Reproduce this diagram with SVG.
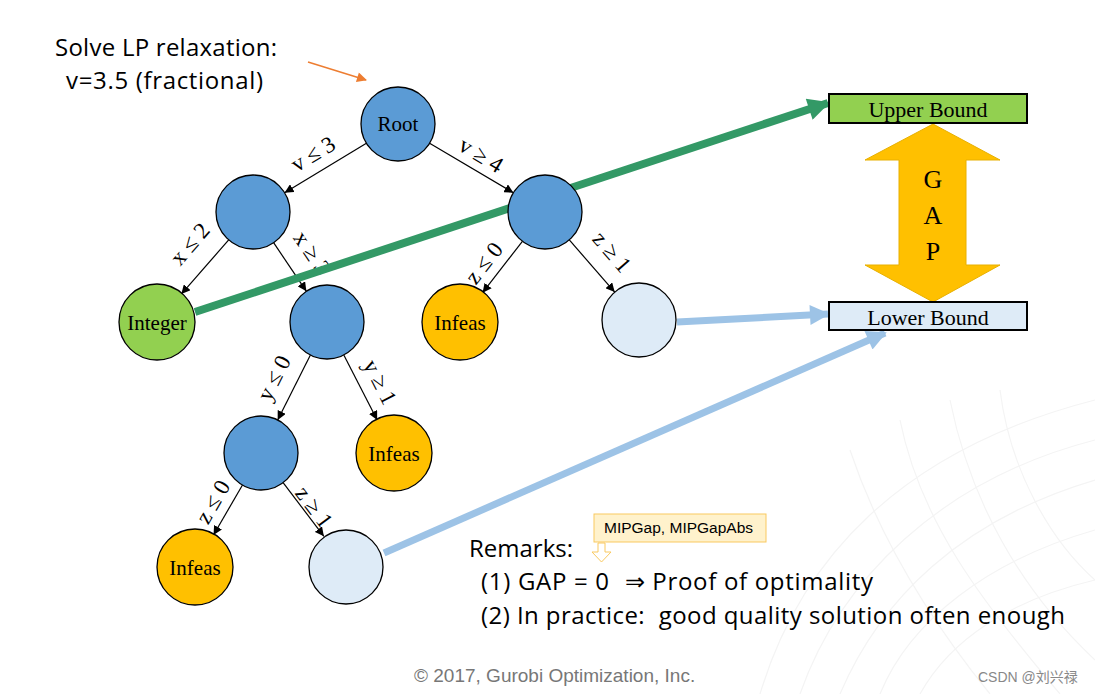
<svg xmlns="http://www.w3.org/2000/svg" width="1095" height="694" viewBox="0 0 1095 694">
<defs>
<style>
.nd{stroke:#000;stroke-width:1.3}
.blue{fill:#5B9BD5}
.green{fill:#92D050}
.orange{fill:#FFC000}
.light{fill:#DEEBF7}
.nt{font-family:"Liberation Serif",serif;font-size:21px;fill:#000;text-anchor:middle;dominant-baseline:central}
.bt{font-family:"Liberation Serif",serif;font-size:22px;fill:#000;text-anchor:middle;dominant-baseline:central}
.el{stroke:#000;stroke-width:1.2;fill:none;marker-end:url(#ah)}
.lb{font-family:"Liberation Serif",serif;font-size:23px;fill:#000;text-anchor:middle;dominant-baseline:central}
.sans{font-family:"Open Sans","Liberation Sans",sans-serif;font-size:24px;fill:#000}
.bg{fill:none;stroke:#F4F4F4;stroke-width:1.2}
</style>
<marker id="ah" viewBox="0 0 10 10" refX="10" refY="5" markerWidth="9" markerHeight="9" markerUnits="userSpaceOnUse" orient="auto"><path d="M0,0 L10,5 L0,10 z" fill="#000"/></marker>
<marker id="ahg" viewBox="0 0 10 10" refX="9" refY="5" markerWidth="26" markerHeight="22" markerUnits="userSpaceOnUse" orient="auto"><path d="M0,0 L10,5 L0,10 z" fill="#339966"/></marker>
<marker id="ahb" viewBox="0 0 10 10" refX="9" refY="5" markerWidth="26" markerHeight="20" markerUnits="userSpaceOnUse" orient="auto"><path d="M0,0 L10,5 L0,10 z" fill="#9DC3E6"/></marker>
<marker id="aho" viewBox="0 0 10 10" refX="9" refY="5" markerWidth="12" markerHeight="10" markerUnits="userSpaceOnUse" orient="auto"><path d="M0,0 L10,5 L0,10 z" fill="#ED7D31"/></marker>
</defs>
<rect width="1095" height="694" fill="#fff"/>
<g id="background">
<path class="bg" d="M760,694 C800,560 900,450 1095,400"/>
<path class="bg" d="M800,694 C840,580 940,480 1095,440"/>
<path class="bg" d="M840,694 C880,600 960,520 1095,480"/>
<path class="bg" d="M880,694 C910,620 990,560 1095,530"/>
<path class="bg" d="M920,694 C950,640 1010,600 1095,580"/>
<path class="bg" d="M900,420 C920,520 980,600 1060,694"/>
<path class="bg" d="M950,400 C970,500 1020,590 1095,660"/>
<path class="bg" d="M1000,390 C1010,470 1050,540 1095,580"/>
<path class="bg" d="M850,450 C880,540 930,620 990,694"/>
</g>
<g id="connectors">
<line class="el" x1="366.4" y1="143.2" x2="284.6" y2="192.8"/>
<line class="el" x1="429.6" y1="143.2" x2="513.4" y2="192.8"/>
<line class="el" x1="228.7" y1="239.9" x2="181.3" y2="294.1"/>
<line class="el" x1="273.6" y1="242.7" x2="306.4" y2="291.3"/>
<line class="el" x1="522.4" y1="241.3" x2="482.6" y2="292.7"/>
<line class="el" x1="569.3" y1="239.9" x2="614.7" y2="292.1"/>
<line class="el" x1="310.4" y1="355" x2="277.7" y2="420"/>
<line class="el" x1="343.8" y1="355" x2="377.2" y2="420"/>
<line class="el" x1="242.5" y1="485" x2="213.5" y2="535"/>
<line class="el" x1="283.1" y1="482.7" x2="323.9" y2="536.3"/>
<text class="lb" transform="translate(313,154) rotate(-31)">v ≤ 3</text>
<text class="lb" transform="translate(481,155) rotate(31)">v ≥ 4</text>
<text class="lb" transform="translate(190,244) rotate(-49)">x ≤ 2</text>
<text class="lb" transform="translate(312,253) rotate(56)">x ≥ 3</text>
<text class="lb" transform="translate(484,263) rotate(-52)">z ≤ 0</text>
<text class="lb" transform="translate(612,252) rotate(49)">z ≥ 1</text>
<text class="lb" transform="translate(274,378) rotate(-63)">y ≤ 0</text>
<text class="lb" transform="translate(380,382) rotate(63)">y ≥ 1</text>
<text class="lb" transform="translate(213,502) rotate(-60)">z ≤ 0</text>
<text class="lb" transform="translate(314,507) rotate(53)">z ≥ 1</text>
<line x1="195" y1="312" x2="828" y2="103" stroke="#339966" stroke-width="8" marker-end="url(#ahg)"/>
<line x1="677" y1="322" x2="828" y2="314" stroke="#9DC3E6" stroke-width="7" marker-end="url(#ahb)"/>
<line x1="384" y1="553" x2="885" y2="333" stroke="#9DC3E6" stroke-width="7" marker-end="url(#ahb)"/>
<line x1="308" y1="62" x2="366" y2="80" stroke="#ED7D31" stroke-width="1.5" marker-end="url(#aho)"/>
</g>
<g id="root"><circle class="nd blue" cx="398" cy="124" r="37"/><text class="nt" x="398" y="124">Root</text></g>
<g id="nodeA"><circle class="nd blue" cx="253" cy="212" r="37"/></g>
<g id="nodeB"><circle class="nd blue" cx="545" cy="212" r="37"/></g>
<g id="integer"><circle class="nd green" cx="157" cy="322" r="38"/><text class="nt" x="157" y="323">Integer</text></g>
<g id="nodeC"><circle class="nd blue" cx="327" cy="322" r="37"/></g>
<g id="infeas1"><circle class="nd orange" cx="460" cy="322" r="38"/><text class="nt" x="460" y="323">Infeas</text></g>
<g id="nodeD"><circle class="nd light" cx="639" cy="320" r="37"/></g>
<g id="nodeE"><circle class="nd blue" cx="261" cy="453" r="37"/></g>
<g id="infeas2"><circle class="nd orange" cx="394" cy="453" r="38"/><text class="nt" x="394" y="454">Infeas</text></g>
<g id="infeas3"><circle class="nd orange" cx="195" cy="567" r="38"/><text class="nt" x="195" y="568">Infeas</text></g>
<g id="nodeF"><circle class="nd light" cx="346" cy="567" r="37"/></g>
<g id="gap">
<path d="M933,124 L1000,160 L966,160 L966,265 L1000,265 L933,302 L865,265 L899,265 L899,160 L865,160 Z" fill="#FFC000" stroke="#E8B000" stroke-width="1"/>
<text x="933" y="188" font-family="Liberation Serif,serif" font-size="26" text-anchor="middle">G</text>
<text x="933" y="224" font-family="Liberation Serif,serif" font-size="26" text-anchor="middle">A</text>
<text x="933" y="260" font-family="Liberation Serif,serif" font-size="26" text-anchor="middle">P</text>
</g>
<g id="upperBound"><rect x="829" y="94" width="198" height="29" fill="#92D050" stroke="#000" stroke-width="2"/><text class="bt" x="928" y="109">Upper Bound</text></g>
<g id="lowerBound"><rect x="829" y="302" width="198" height="28" fill="#DEEBF7" stroke="#000" stroke-width="2"/><text class="bt" x="928" y="317">Lower Bound</text></g>
<g id="title">
<text class="sans" x="55" y="56" textLength="222">Solve LP relaxation:</text>
<text class="sans" x="66" y="89" textLength="197">v=3.5 (fractional)</text>
</g>
<g id="callout">
<rect x="594" y="514" width="172" height="28" fill="#FFF2CC" stroke="#F9C960" stroke-width="1"/>
<text x="604" y="533" font-family="Liberation Sans,Arial,sans-serif" font-size="15.5" fill="#000">MIPGap, MIPGapAbs</text>
<path d="M598,543 L605,543 L605,552 L611,552 L601.5,562 L592,552 L598,552 Z" fill="#fff" stroke="#F9C960" stroke-width="1"/>
</g>
<g id="remarks">
<text class="sans" x="469" y="557">Remarks:</text>
<text class="sans" x="481" y="590" textLength="392">(1) GAP = 0 <tspan dx="8">⇒</tspan> Proof of optimality</text>
<text class="sans" x="481" y="624" textLength="584">(2) In practice: <tspan dx="7">good</tspan> quality solution often enough</text>
</g>
<text x="414" y="682" font-family="Liberation Sans,Arial,sans-serif" font-size="19" fill="#777">© 2017, Gurobi Optimization, Inc.</text>
<text x="978" y="682" font-family="Liberation Sans,'Noto Sans CJK SC',sans-serif" font-size="14" fill="#888">CSDN @刘兴禄</text>
</svg>
